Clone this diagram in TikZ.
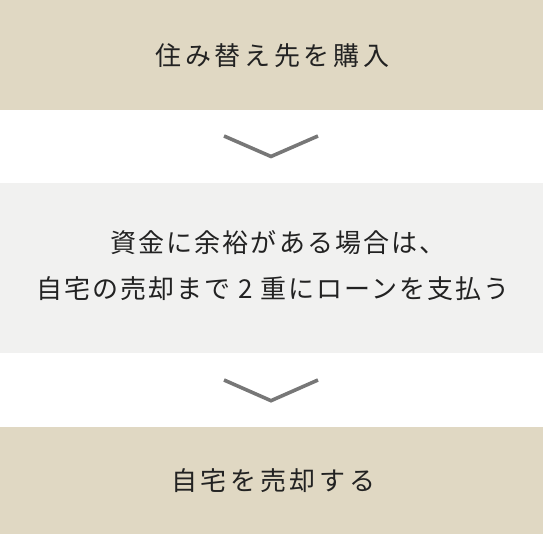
\documentclass[tikz,border=0pt]{standalone}
\usepackage{fontspec}
\newfontfamily\jpA[LetterSpace=14]{Noto Sans CJK JP}
\newfontfamily\jpB[LetterSpace=7.8]{Noto Sans CJK JP}
\definecolor{beige}{HTML}{E0D8C3}
\definecolor{paleg}{HTML}{F1F1F0}
\definecolor{chev}{HTML}{777777}
\definecolor{ink}{HTML}{222222}
\tikzset{
  lbl/.style={anchor=base, inner sep=0pt, text=ink, font=\jpA\fontsize{26pt}{30pt}\selectfont},
  lblm/.style={anchor=base, inner sep=0pt, text=ink, font=\jpB\fontsize{26pt}{30pt}\selectfont},
  chevron/.style={draw=chev, line width=3.6pt, line join=miter, line cap=butt}
}
\begin{document}
\begin{tikzpicture}[x=1pt,y=1pt]
\useasboundingbox (0,0) rectangle (543,534);
\fill[beige] (0,424) rectangle (543,534);
\fill[paleg] (0,181) rectangle (543,351);
\fill[beige] (0,0) rectangle (543,107);
\node[lbl] (t1) at (272.3,468.6) {住み替え先を購入};
\node[lblm] (m1) at (278,281.6) {資金に余裕がある場合は、};
\node[lblm] (m2) at (273,235) {自宅の売却まで 2 重にローンを支払う};
\node[lbl] (t3) at (273.3,43.6) {自宅を売却する};
\coordinate (a1) at (224,398);
\coordinate (a2) at (271,377.5);
\coordinate (a3) at (318,398);
\draw[chevron] (a1) -- (a2) -- (a3);
\coordinate (b1) at (224,154);
\coordinate (b2) at (271,133.3);
\coordinate (b3) at (318,154);
\draw[chevron] (b1) -- (b2) -- (b3);
\end{tikzpicture}
\end{document}
